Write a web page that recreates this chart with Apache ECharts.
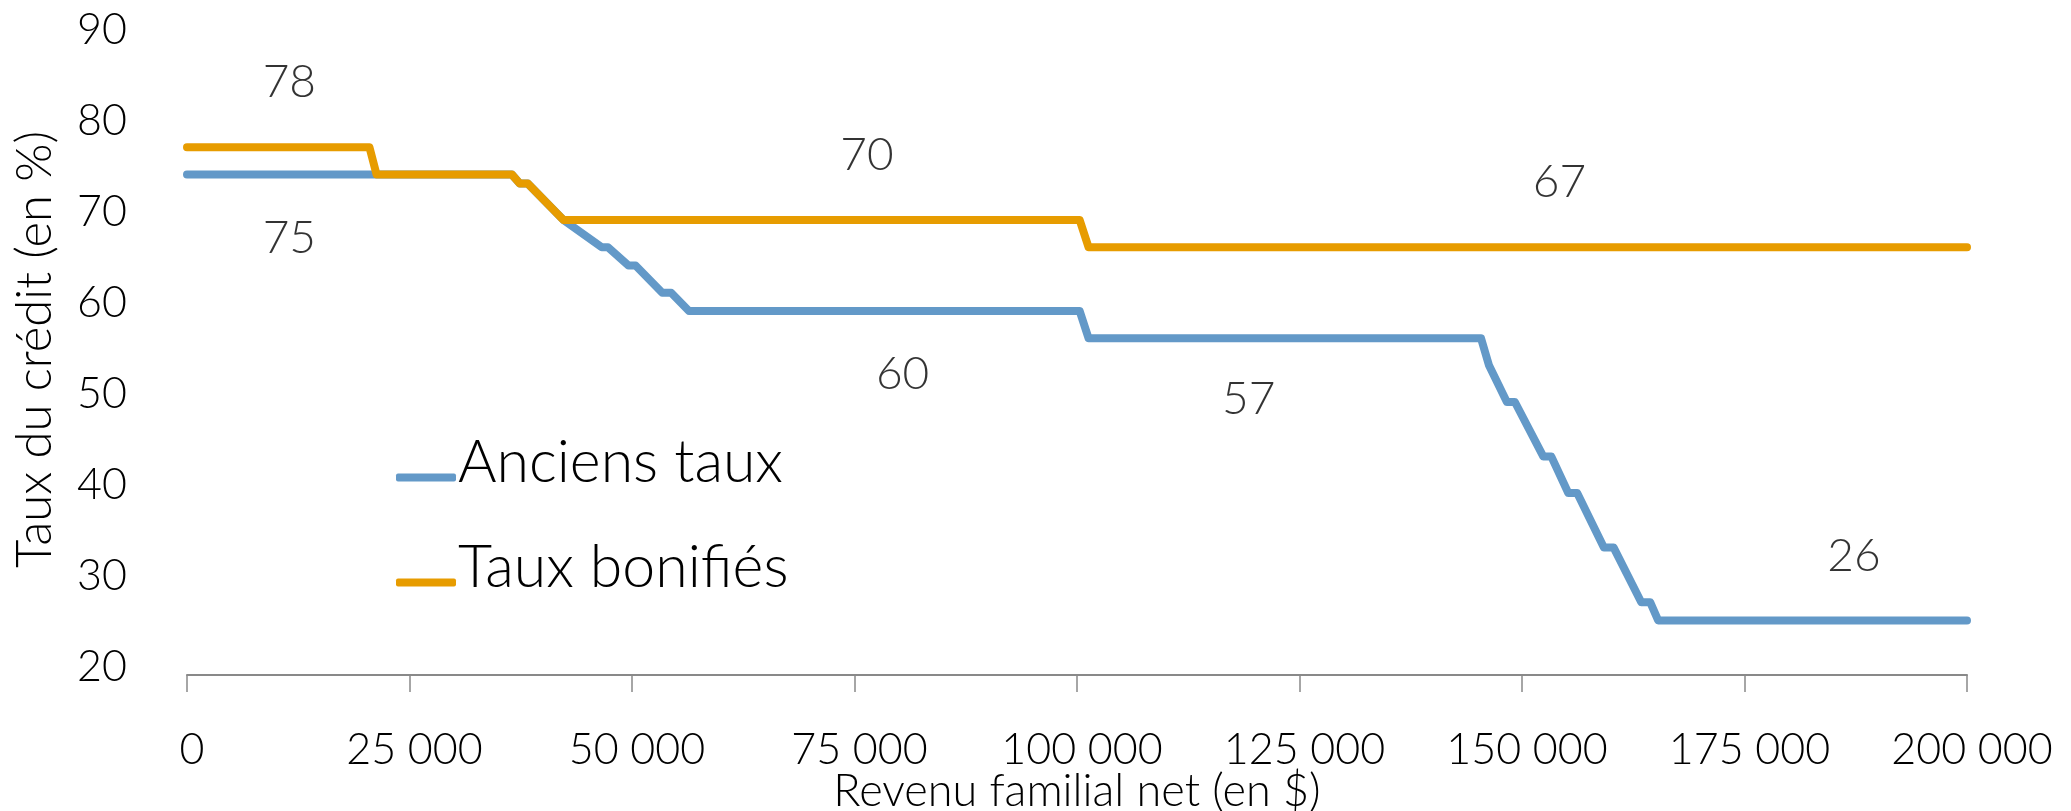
<!DOCTYPE html>
<html>
<head>
<meta charset="utf-8">
<script src="https://cdn.jsdelivr.net/npm/echarts@6/dist/echarts.min.js"></script>
<style>
html,body{margin:0;padding:0;background:#fff;}
#c{width:2071px;height:811px;}
</style>
</head>
<body>
<div id="c"></div>
<script>
// Series: [revenu ($), taux (%)]
const anciensTaux = [
  [0,75],[36500,75],[37400,74],[38300,74],[42300,70],[46600,67],[47300,67],
  [49600,65],[50400,65],[53400,62],[54400,62],[56400,60],[100300,60],[101300,57],
  [145400,57],[146300,54],[148300,50],[149200,50],[152400,44],[153300,44],
  [155200,40],[156200,40],[159200,34],[160300,34],[163400,28],[164400,28],
  [165300,26],[200000,26]
];
const tauxBonifies = [
  [0,78],[20500,78],[21300,75],[36500,75],[37400,74],[38300,74],[42300,70],
  [100300,70],[101300,67],[200000,67]
];
// Annotation labels
const annoX = [11500, 11500, 76400, 80400, 119300, 154200, 187300];
const annoY = [85.2, 68.0, 77.1, 53.1, 50.3, 74.2, 33.1];
const annoText = ['78', '75', '70', '60', '57', '67', '26'];
// Axis ticks
const xTicks = [0, 25000, 50000, 75000, 100000, 125000, 150000, 175000, 200000];
const yTicks = [20, 30, 40, 50, 60, 70, 80, 90];

const FONT = 'Lato';
const chart = echarts.init(document.getElementById('c'), null, {renderer: 'canvas'});
const fmt = v => String(v).replace(/\B(?=(\d{3})+(?!\d))/g, ' ');

chart.setOption({
  animation: false,
  backgroundColor: '#ffffff',
  textStyle: {fontFamily: FONT, fontWeight: 300, color: '#000'},
  grid: {left: 187, right: 104, top: 38, bottom: 136, containLabel: false, outerBoundsMode: 'none'},
  legend: {
    data: ['Anciens taux', 'Taux bonifiés'],
    orient: 'vertical',
    left: 391,
    top: 428,
    itemWidth: 60,
    itemHeight: 8,
    itemGap: 46,
    icon: 'roundRect',
    formatter: name => '{t|' + name + '}',
    textStyle: {
      fontFamily: FONT, fontWeight: 300, fontSize: 59, color: '#000',
      rich: {t: {fontFamily: FONT, fontWeight: 300, fontSize: 59, color: '#000', padding: [0, 0, 30, -3]}}
    }
  },
  xAxis: {
    type: 'value',
    min: xTicks[0],
    max: xTicks[xTicks.length - 1],
    interval: xTicks[1] - xTicks[0],
    name: 'Revenu familial net (en $)',
    nameLocation: 'middle',
    nameGap: 94,
    nameMoveOverlap: false,
    nameTextStyle: {fontFamily: FONT, fontWeight: 300, fontSize: 45, color: '#000'},
    axisLine: {show: true, lineStyle: {color: '#898989', width: 2}},
    axisTick: {show: true, length: 17, lineStyle: {color: '#898989', width: 1.5}},
    splitLine: {show: false},
    axisLabel: {
      fontFamily: FONT, fontWeight: 300, fontSize: 43, color: '#000', margin: 54,
      padding: [0, 0, 0, 10],
      formatter: v => fmt(v)
    }
  },
  yAxis: {
    type: 'value',
    min: yTicks[0],
    max: yTicks[yTicks.length - 1],
    interval: yTicks[1] - yTicks[0],
    name: 'Taux du crédit (en %)',
    nameLocation: 'middle',
    nameGap: 127,
    nameMoveOverlap: false,
    nameTextStyle: {fontFamily: FONT, fontWeight: 300, fontSize: 49, color: '#000', padding: [0, 0, 0, 14]},
    axisLine: {show: false},
    axisTick: {show: false},
    splitLine: {show: false},
    axisLabel: {
      fontFamily: FONT, fontWeight: 300, fontSize: 43, color: '#000', margin: 60,
      formatter: v => '{a|' + v + '}',
      rich: {a: {fontFamily: FONT, fontWeight: 300, fontSize: 43, color: '#000', padding: [0, 0, 16, 0]}}
    }
  },
  series: [
    {
      name: 'Anciens taux', type: 'line', data: anciensTaux, symbol: 'none',
      color: '#6399C8',
      lineStyle: {width: 8, color: '#6399C8', cap: 'round', join: 'round'},
      z: 2
    },
    {
      name: 'Taux bonifiés', type: 'line', data: tauxBonifies, symbol: 'none',
      color: '#E79C00',
      lineStyle: {width: 8, color: '#E79C00', cap: 'round', join: 'round'},
      z: 3
    },
    {
      name: 'annotations', type: 'scatter', symbolSize: 0, silent: true,
      data: annoX.map((x, i) => ({value: [x, annoY[i]], name: annoText[i]})),
      label: {
        show: true, position: 'inside', formatter: p => p.name,
        fontFamily: FONT, fontWeight: 300, fontSize: 46, color: '#000'
      },
      z: 4
    }
  ]
});
</script>
</body>
</html>
